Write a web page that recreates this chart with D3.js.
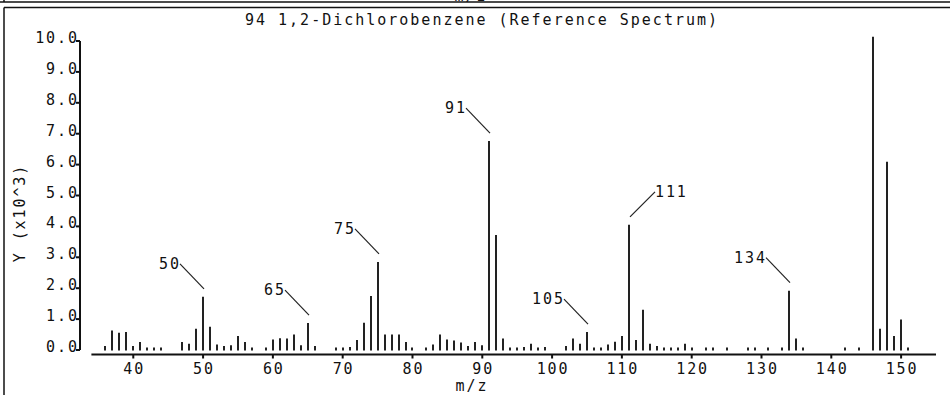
<!DOCTYPE html>
<html><head><meta charset="utf-8">
<script src="https://cdn.jsdelivr.net/npm/d3@7"></script>
<style>
html,body{margin:0;padding:0;background:#fff;}
svg text{font-family:"DejaVu Sans Mono",monospace;font-size:15px;fill:#111;}
</style></head>
<body><svg id="c" width="950" height="395"></svg>
<script>
const titleText = "94 1,2-Dichlorobenzene (Reference Spectrum)";
const xLabel = "m/z";
const yLabel = "Y (x10^3)";
const mz = [36,37,38,39,40,41,42,43,44,47,48,49,50,51,52,53,54,55,56,57,59,60,61,62,63,64,65,66,69,70,71,72,73,74,75,76,77,78,79,80,82,83,84,85,86,87,88,89,90,91,92,93,94,95,96,97,98,99,102,103,104,105,106,107,108,109,110,111,112,113,114,115,116,117,118,119,120,122,123,125,128,129,131,133,134,135,136,142,144,146,147,148,149,150,151];
const intensity = [0.13,0.63,0.56,0.58,0.13,0.26,0.08,0.08,0.08,0.26,0.2,0.69,1.72,0.75,0.18,0.13,0.15,0.45,0.26,0.08,0.08,0.34,0.38,0.37,0.5,0.15,0.87,0.13,0.08,0.08,0.1,0.32,0.88,1.75,2.85,0.5,0.5,0.5,0.26,0.08,0.08,0.18,0.5,0.34,0.31,0.24,0.13,0.26,0.15,6.76,3.72,0.37,0.08,0.08,0.1,0.2,0.08,0.1,0.13,0.37,0.2,0.58,0.08,0.08,0.18,0.27,0.45,4.05,0.32,1.3,0.2,0.13,0.08,0.08,0.08,0.2,0.08,0.08,0.08,0.08,0.08,0.08,0.08,0.08,1.92,0.37,0.08,0.08,0.08,10.14,0.69,6.09,0.45,0.99,0.08];
const xTicks = [40,50,60,70,80,90,100,110,120,130,140,150];
const yTicks = [0,1,2,3,4,5,6,7,8,9,10];
const annoMz = [50,65,75,91,105,111,134];
const annoRight = [false,false,false,false,false,true,false];

const svg = d3.select("#c");
const ls = 1.9;
const x = d3.scaleLinear().domain([34,155]).range([91.4,936]);
const y = d3.scaleLinear().domain([0,10]).range([350,41]);

// frame
svg.append("line").attr("x1",0).attr("x2",950).attr("y1",2).attr("y2",2).attr("stroke","#111").attr("stroke-width",1.5);
svg.append("line").attr("x1",4).attr("x2",950).attr("y1",7.5).attr("y2",7.5).attr("stroke","#111").attr("stroke-width",1.5);
svg.append("line").attr("x1",4).attr("x2",4).attr("y1",0).attr("y2",2).attr("stroke","#111").attr("stroke-width",1.5);
svg.append("line").attr("x1",4).attr("x2",4).attr("y1",7.5).attr("y2",395).attr("stroke","#111").attr("stroke-width",1.5);
svg.append("text").attr("x",471).attr("y",0.5).attr("text-anchor","middle").style("letter-spacing",ls+"px").text(xLabel);

// title
svg.append("text").attr("x",245).attr("y",25).attr("textLength",472).attr("lengthAdjust","spacing").text(titleText);

// y axis
svg.append("line").attr("x1",80).attr("x2",80).attr("y1",y(10)).attr("y2",y(0)).attr("stroke","#111").attr("stroke-width",2);
const yt = svg.append("g");
yTicks.forEach(t=>{
  yt.append("line").attr("x1",76).attr("x2",80).attr("y1",y(t)).attr("y2",y(t)).attr("stroke","#111").attr("stroke-width",2);
  yt.append("text").attr("x",77+ls).attr("y",y(t)+2).attr("text-anchor","end").style("letter-spacing",ls+"px").text(d3.format(".1f")(t));
});
svg.append("text").attr("transform","translate(25,213) rotate(-90)").attr("text-anchor","middle").style("letter-spacing",ls+"px").text(yLabel);

// x axis
svg.append("line").attr("x1",x(34)).attr("x2",x(155)).attr("y1",354.5).attr("y2",354.5).attr("stroke","#111").attr("stroke-width",2);
xTicks.forEach(t=>{
  svg.append("line").attr("x1",x(t)).attr("x2",x(t)).attr("y1",354).attr("y2",358.5).attr("stroke","#111").attr("stroke-width",2);
  svg.append("text").attr("x",x(t)+ls/2).attr("y",374).attr("text-anchor","middle").style("letter-spacing",ls+"px").text(t);
});
svg.append("text").attr("x",471+ls/2).attr("y",391).attr("text-anchor","middle").style("letter-spacing",ls+"px").text(xLabel);

// bars
svg.append("g").selectAll("line").data(mz).join("line")
  .attr("x1",(d)=>Math.round(x(d))).attr("x2",(d)=>Math.round(x(d)))
  .attr("y1",y(0)+0.5).attr("y2",(d,i)=>y(intensity[i]))
  .attr("stroke","#222").attr("stroke-width",2);

// annotations
annoMz.forEach((m,k)=>{
  const i = mz.indexOf(m);
  const bx = Math.round(x(m))+1, by = y(intensity[i]) - 8;
  const dx = annoRight[k] ? 25 : -24;
  const sx = bx + dx, sy = by - 25;
  svg.append("line").attr("x1",bx).attr("y1",by).attr("x2",sx).attr("y2",sy).attr("stroke","#222").attr("stroke-width",1.2);
  svg.append("text").attr("x",annoRight[k]? sx : sx - 1 + ls).attr("y",sy+5)
    .attr("text-anchor",annoRight[k]?"start":"end").style("letter-spacing",ls+"px").text(m);
});
</script></body></html>
